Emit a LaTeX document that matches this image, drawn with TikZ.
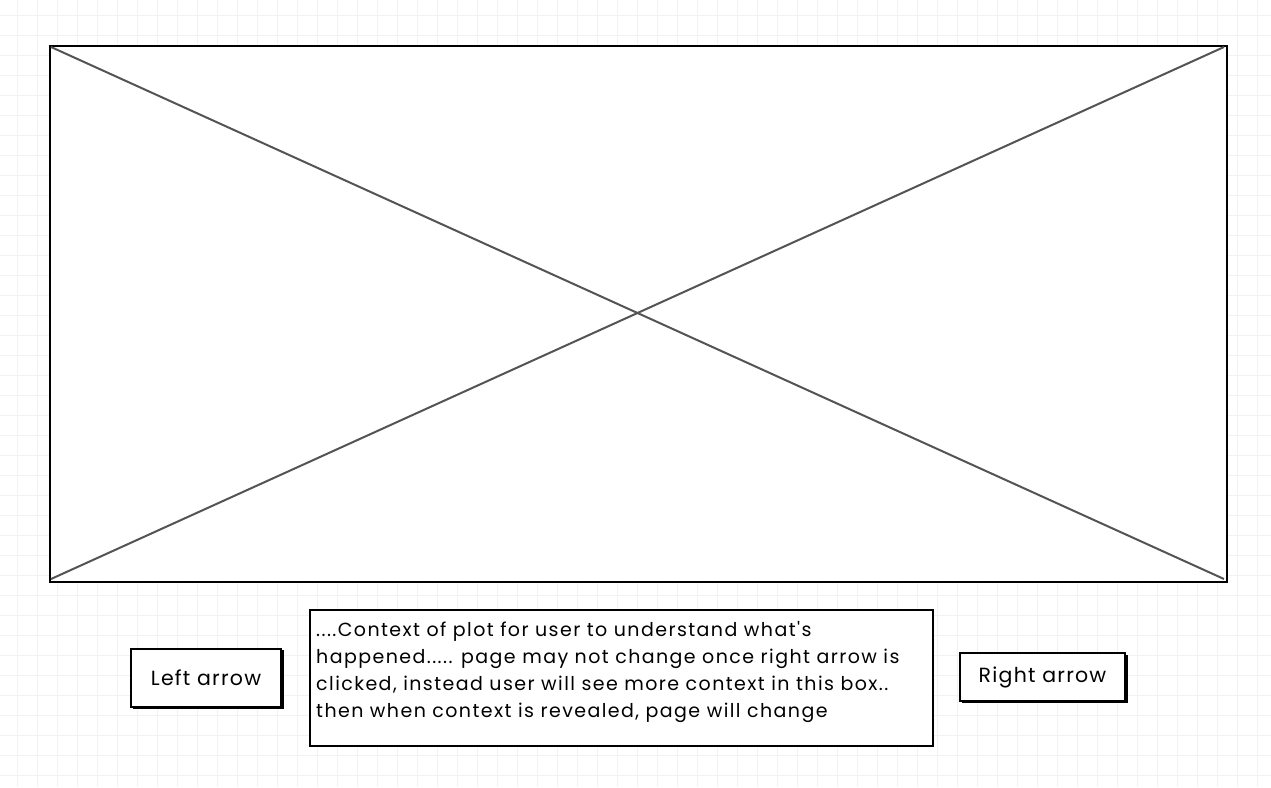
\documentclass[tikz,border=0pt]{standalone}
\usepackage{fontspec}
\setmainfont{Poppins}
\newfontfamily\btnfont[LetterSpace=6]{Poppins}
\newfontfamily\bodyfont[LetterSpace=7.5]{Poppins}
\begin{document}
\begin{tikzpicture}[x=1pt,y=-1pt,
  frame/.style={draw=black,line width=2pt,fill=white},
  diag/.style={draw=black!67,line width=2pt},
  shadowbox/.style={fill=black},
  btntext/.style={font=\btnfont\fontsize{20.5}{24}\selectfont,anchor=center,inner sep=0pt},
  bodytext/.style={font=\bodyfont\fontsize{19}{27}\selectfont,anchor=north west,inner sep=0pt,align=left}]
\useasboundingbox (0,0) rectangle (1271,787);
\fill[white] (0,0) rectangle (1271,787);
\foreach \i in {0,...,63} {\draw[black!5,line width=1pt] ({17+20*\i},0) -- ({17+20*\i},787);}
\foreach \j in {0,...,39} {\draw[black!5,line width=1pt] (0,{15+20*\j}) -- (1271,{15+20*\j});}
% main image placeholder
\node[frame,minimum width=1177pt,minimum height=536pt,inner sep=0pt,anchor=north west] (img) at (49,45) {};
\coordinate (tl) at (51,47);
\coordinate (tr) at (1224,47);
\coordinate (bl) at (51,579);
\coordinate (br) at (1224,579);
\draw[diag] (tl) -- (br);
\draw[diag] (bl) -- (tr);
% left button
\fill[shadowbox] (133,650) rectangle (284,709);
\node[frame,minimum width=150pt,minimum height=58pt,inner sep=0pt,anchor=north west] (lbtn) at (130,648) {};
\node[btntext] (ltxt) at (lbtn.center) {Left arrow};
% right button
\fill[shadowbox] (962,655) rectangle (1128,703);
\node[frame,minimum width=165pt,minimum height=48pt,inner sep=0pt,anchor=north west] (rbtn) at (959,652) {};
\node[btntext] (rtxt) at (rbtn.center) {Right arrow};
% context box
\node[frame,minimum width=623pt,minimum height=136pt,inner sep=0pt,anchor=north west] (ctx) at (309,609) {};
\node[bodytext] (ctxt) at (316,621) {....Context of plot for user to understand what's\\happened..... page may not change once right arrow is\\clicked, instead user will see more context in this box..\\then when context is revealed, page will change};
\end{tikzpicture}
\end{document}
